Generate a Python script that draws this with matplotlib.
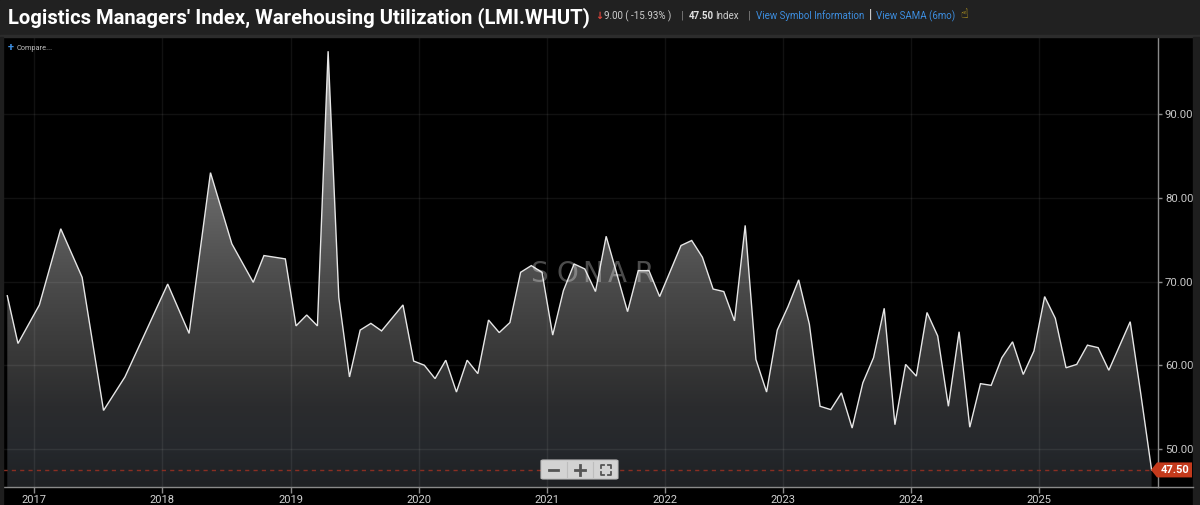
import matplotlib
matplotlib.use("Agg")
import matplotlib.pyplot as plt
import numpy as np
from matplotlib.colors import LinearSegmentedColormap
from matplotlib.patches import Rectangle, FancyBboxPatch, Polygon
from matplotlib.lines import Line2D
from matplotlib.transforms import IdentityTransform

# ---------------- data ----------------
months = ['2016-10', '2016-11', '2017-01', '2017-03', '2017-05', '2017-07', '2017-09',
          '2018-01', '2018-03', '2018-05', '2018-07', '2018-09', '2018-10', '2018-12',
          '2019-01', '2019-02', '2019-03', '2019-04', '2019-05', '2019-06', '2019-07',
          '2019-08', '2019-09', '2019-11', '2019-12',
          '2020-01', '2020-02', '2020-03', '2020-04', '2020-05', '2020-06', '2020-07',
          '2020-08', '2020-09', '2020-10', '2020-11', '2020-12',
          '2021-01', '2021-02', '2021-03', '2021-04', '2021-05', '2021-06', '2021-09',
          '2021-10', '2021-11', '2021-12',
          '2022-02', '2022-03', '2022-04', '2022-05', '2022-06', '2022-08', '2022-09',
          '2022-10', '2022-11', '2022-12',
          '2023-01', '2023-02', '2023-03', '2023-04', '2023-05', '2023-06', '2023-07',
          '2023-08', '2023-09', '2023-10', '2023-11', '2023-12',
          '2024-01', '2024-02', '2024-03', '2024-04', '2024-05', '2024-06', '2024-07',
          '2024-08', '2024-09', '2024-10', '2024-11', '2024-12',
          '2025-01', '2025-02', '2025-03', '2025-04', '2025-05', '2025-06', '2025-07',
          '2025-09', '2025-10', '2025-11']
values = [68.3, 62.6, 67.2, 76.3, 70.5, 54.6, 58.6,
          69.7, 63.8, 83.0, 74.5, 69.9, 73.1, 72.7,
          64.7, 66.0, 64.7, 97.5, 68.1, 58.6, 64.2,
          65.0, 64.1, 67.2, 60.5,
          60.0, 58.4, 60.6, 56.8, 60.6, 59.0, 65.4,
          63.9, 65.1, 71.1, 71.9, 71.1,
          63.6, 68.9, 72.1, 71.5, 68.8, 75.4, 66.4,
          71.3, 71.3, 68.2,
          74.3, 74.9, 72.9, 69.1, 68.8, 65.3, 76.7,
          60.7, 56.8, 64.2,
          67.0, 70.2, 64.9, 55.1, 54.7, 56.7, 52.5,
          57.9, 60.9, 66.8, 52.9, 60.1,
          58.7, 66.3, 63.5, 55.1, 64.0, 52.6, 57.8,
          57.6, 60.9, 62.8, 58.9, 61.7,
          68.2, 65.6, 59.7, 60.1, 62.4, 62.1, 59.4,
          65.2, 56.5, 47.5]
absent_months = ['2021-07', '2022-07']   # months without a reading on the source axis
year_labels = list(range(2017, 2026))
y_ticks = [50, 60, 70, 80, 90]
last_value = 47.50
change_abs = 9.00
change_pct = -15.93

# ---------------- helpers ----------------
W, H = 1200, 505
FONT = ['Roboto', 'DejaVu Sans']
plt.rcParams['font.family'] = FONT


def slot_of(m):
    y, mo = map(int, m.split('-'))
    n = (y - 2016) * 12 + mo - 10
    n -= sum(1 for a in absent_months if a < m)
    return n


def fx(x):  # pixel x -> figure fraction
    return x / W


def fy(y):  # pixel y (from top) -> figure fraction
    return 1 - y / H


x = np.array([slot_of(m) for m in months], dtype=float)
v = np.array(values)

fig = plt.figure(figsize=(W / 100, H / 100), dpi=100, facecolor='black')

# header bar and frame pieces
fig.patches.append(Rectangle((0, fy(35)), 1, 35 / H, transform=fig.transFigure,
                             color='#212121', zorder=0))
fig.patches.append(Rectangle((0, fy(36.5)), 1, 1.5 / H, transform=fig.transFigure,
                             color='#2c2c2c', zorder=0))
fig.patches.append(Rectangle((0, 0), 2.5 / W, fy(36.5), transform=fig.transFigure,
                             color='#1e1e1e', zorder=0))
fig.patches.append(Rectangle((fx(1193), 0), 7 / W, fy(36.5), transform=fig.transFigure,
                             color='#1e1e1e', zorder=0))

# ---------------- axes ----------------
ax = fig.add_axes([fx(3), fy(487), fx(1158) - fx(3), fy(37) - fy(487)])
ax.set_facecolor('black')
xmin, xmax = x[0] - 0.40, x[-1] + 0.60
ymin, ymax = 45.46, 99.2
ax.set_xlim(xmin, xmax)
ax.set_ylim(ymin, ymax)

tick_pos = [slot_of(f'{yr}-01') - 0.5 for yr in year_labels]

# grid
for t in tick_pos:
    ax.axvline(t, color='#ffffff', alpha=0.07, lw=1, zorder=3)
for t in y_ticks:
    ax.axhline(t, color='#ffffff', alpha=0.07, lw=1, zorder=3)

# gradient fill
stops = [(45.46, '#1f2124'), (50, '#25282c'), (55, '#2b2c2e'), (60, '#363636'),
         (65, '#404040'), (70, '#4b4b4b'), (75, '#585858'), (80, '#666666'),
         (90, '#8a8a8a'), (99.2, '#b0b0b0')]
cmap = LinearSegmentedColormap.from_list(
    'fillgrad', [((s - ymin) / (ymax - ymin), c) for s, c in stops])
grad = np.linspace(0, 1, 400).reshape(-1, 1)
fb = ax.fill_between(x, v, ymin, facecolor='none', edgecolor='none', zorder=1)
im = ax.imshow(grad, extent=[xmin, xmax, ymin, ymax], origin='lower', aspect='auto',
               cmap=cmap, zorder=1, interpolation='bilinear')
im.set_clip_path(fb.get_paths()[0], transform=ax.transData)

# line
ax.plot(x, v, color='#e6e6e6', lw=1.0, zorder=4, solid_joinstyle='miter')

# last value dashed line
ax.axhline(last_value, color='#8a2e22', lw=1.0, ls=(0, (3, 3)), zorder=5)

# watermark
wm_x0, wm_pitch = 530, 26
for i, ch in enumerate('SONAR'):
    fig.text(fx(wm_x0 + i * wm_pitch), fy(274), ch, color='white', alpha=0.30,
             fontsize=20, fontweight='normal', ha='left', va='center', zorder=6,
             family=['DejaVu Sans'])

# axes styling
for s in ['top', 'left']:
    ax.spines[s].set_visible(False)
ax.spines['right'].set_color('#8a8a8a')
ax.spines['bottom'].set_color('#8a8a8a')
ax.spines['right'].set_linewidth(1)
ax.spines['bottom'].set_linewidth(1)
ax.yaxis.tick_right()
ax.set_yticks(y_ticks)
ax.set_yticklabels([f'{t:.2f}' for t in y_ticks])
ax.set_xticks(tick_pos)
ax.set_xticklabels([str(y) for y in year_labels])
ax.tick_params(axis='x', colors='#8a8a8a', labelcolor='#d0d0d0', labelsize=8,
               length=4, width=1, pad=2)
ax.tick_params(axis='y', colors='#8a8a8a', labelcolor='#c8c8c8', labelsize=8.2,
               length=3, width=1, pad=2)

# bottom line extending under right axis
fig.lines.append(Line2D([fx(1158), fx(1193)], [fy(487), fy(487)],
                        transform=fig.transFigure, color='#8a8a8a', lw=1))

# ---------------- header text ----------------
HS = 7.0
fig.text(fx(8), fy(18), "Logistics Managers' Index, Warehousing Utilization (LMI.WHUT)",
         color='white', fontsize=14.6, fontweight='bold', va='center', ha='left')
fig.text(fx(595), fy(16), '\u2193', color='#e0443a', fontsize=7, fontweight='bold',
         va='center', ha='left', family=['DejaVu Sans'])
fig.text(fx(604), fy(16), f'{change_abs:.2f} ( {change_pct:.2f}% )', color='#cfcfcf',
         fontsize=HS, va='center', ha='left')
fig.text(fx(681), fy(16), '|', color='#888888', fontsize=8, va='center', ha='left')
fig.text(fx(689), fy(16), f'{last_value:.2f}', color='#e0e0e0', fontsize=HS,
         fontweight='bold', va='center', ha='left')
fig.text(fx(715), fy(16), 'Index', color='#cfcfcf', fontsize=HS, va='center', ha='left')
fig.text(fx(748), fy(16), '|', color='#888888', fontsize=8, va='center', ha='left')
fig.text(fx(756), fy(16), 'View Symbol Information', color='#3d8ee0', fontsize=HS,
         va='center', ha='left')
fig.text(fx(869), fy(15), '|', color='#e0e0e0', fontsize=9.5, va='center', ha='left')
fig.text(fx(876), fy(16), 'View SAMA (6mo)', color='#3d8ee0', fontsize=HS,
         va='center', ha='left')
fig.text(fx(960), fy(15), '\u261d', color='#e8c020', fontsize=9, va='center', ha='left',
         family=['DejaVu Sans'])

# compare
fig.text(fx(8), fy(48), '+', color='#3d8ee0', fontsize=8, fontweight='bold',
         va='center', ha='left')
fig.text(fx(17), fy(48), 'Compare...', color='#bdbdbd', fontsize=5.3, va='center', ha='left')

# ---------------- last-value tag ----------------
fig.canvas.draw()
y_disp = ax.transData.transform((0, last_value))[1]
x_axis_right = ax.transAxes.transform((1, 0))[0]
tag = Polygon([(x_axis_right - 7, y_disp), (x_axis_right - 1, y_disp + 7.5),
               (x_axis_right + 34, y_disp + 7.5), (x_axis_right + 34, y_disp - 7.5),
               (x_axis_right - 1, y_disp - 7.5)], closed=True,
              transform=IdentityTransform(), facecolor='#c43a1c', edgecolor='none',
              zorder=10)
fig.patches.append(tag)
fig.text((x_axis_right + 17) / W, y_disp / H, f'{last_value:.2f}', color='white',
         fontsize=8, fontweight='bold', ha='center', va='center', zorder=11)

# ---------------- zoom control ----------------
fig.patches.append(FancyBboxPatch((fx(541), fy(479)), 77 / W, 19 / H,
                                  boxstyle='round,pad=0,rounding_size=0.002',
                                  transform=fig.transFigure, facecolor='#d3d3d3',
                                  edgecolor='#bcbcbc', lw=0.8, zorder=12))
for dx in (567, 593):
    fig.lines.append(Line2D([fx(dx), fx(dx)], [fy(477), fy(462)], transform=fig.transFigure,
                            color='#bdbdbd', lw=0.8, zorder=13))
fig.lines.append(Line2D([fx(549), fx(558)], [fy(469.5), fy(469.5)], transform=fig.transFigure,
                        color='#555555', lw=2, zorder=13))
fig.lines.append(Line2D([fx(575), fx(585)], [fy(469.5), fy(469.5)], transform=fig.transFigure,
                        color='#555555', lw=2, zorder=13))
fig.lines.append(Line2D([fx(580), fx(580)], [fy(464.5), fy(474.5)], transform=fig.transFigure,
                        color='#555555', lw=2, zorder=13))
cx, cy, r, a = 606, 469.5, 5, 3
for sx in (-1, 1):
    for sy in (-1, 1):
        xs = [cx + sx * r, cx + sx * r, cx + sx * (r - a)]
        ys = [cy + sy * (r - a), cy + sy * r, cy + sy * r]
        fig.lines.append(Line2D([fx(p) for p in xs], [fy(p) for p in ys],
                                transform=fig.transFigure, color='#555555', lw=1.3,
                                zorder=13))

fig.savefig('out.png', dpi=100, facecolor='black')
